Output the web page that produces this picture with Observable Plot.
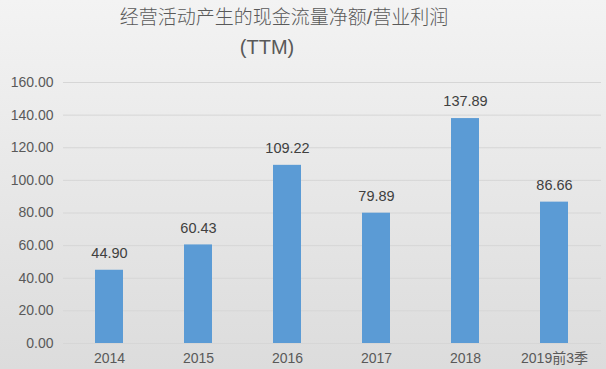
<!DOCTYPE html>
<html><head><meta charset="utf-8">
<script src="https://cdn.jsdelivr.net/npm/d3@7"></script>
<script src="https://cdn.jsdelivr.net/npm/@observablehq/plot@0.6"></script>
<style>
html,body{margin:0;padding:0;}
#wrap{position:relative;width:606px;height:369px;overflow:hidden;
 background:linear-gradient(to bottom,#f3f3f3 0%,#dcdcdc 100%);
 font-family:"Liberation Sans","Noto Sans CJK SC",sans-serif;}
#title{position:absolute;left:0;top:0;width:606px;height:65px;color:#595959;font-size:20px;}
#t1{position:absolute;left:0;width:568px;text-align:center;top:6px;line-height:24px;font-size:19px;font-weight:300;}
#t2{position:absolute;left:0;width:534px;text-align:center;top:35px;line-height:24px;}
#chart{position:absolute;left:0;top:65px;}
</style></head>
<body><div id="wrap"><div id="title"><div id="t1">经营活动产生的现金流量净额/营业利润</div><div id="t2">(TTM)</div></div><div id="chart"></div></div>
<script>
const categories = ["2014","2015","2016","2017","2018","2019前3季"];
const values = [44.90, 60.43, 109.22, 79.89, 137.89, 86.66];
const yTicks = [0,20,40,60,80,100,120,140,160];

const data = categories.map((c,i)=>({cat:c, v:values[i]}));
const font = '"Liberation Sans","Noto Sans CJK SC",sans-serif';
const chart = Plot.plot({
  width:606, height:304,
  marginTop:17, marginBottom:26, marginLeft:63, marginRight:5,
  style:{background:"transparent", fontFamily:font, fontSize:"14px", color:"#595959"},
  x:{domain:categories, paddingInner:0.68, paddingOuter:0.34, label:null, tickSize:0, tickPadding:10},
  y:{domain:[0,160], ticks:yTicks, tickFormat:d=>d.toFixed(2), label:null, tickSize:0, tickPadding:10},
  marks:[
    Plot.gridY(yTicks,{stroke:"#d6d6d6", strokeOpacity:1, strokeWidth:1}),
    Plot.barY(data,{x:"cat", y:"v", fill:"#5b9bd5"}),
    Plot.text(data,{x:"cat", y:"v", text:d=>d.v.toFixed(2), dy:-17, fill:"#404040", fontSize:14.5})
  ]
});
document.getElementById("chart").appendChild(chart);
</script></body></html>
